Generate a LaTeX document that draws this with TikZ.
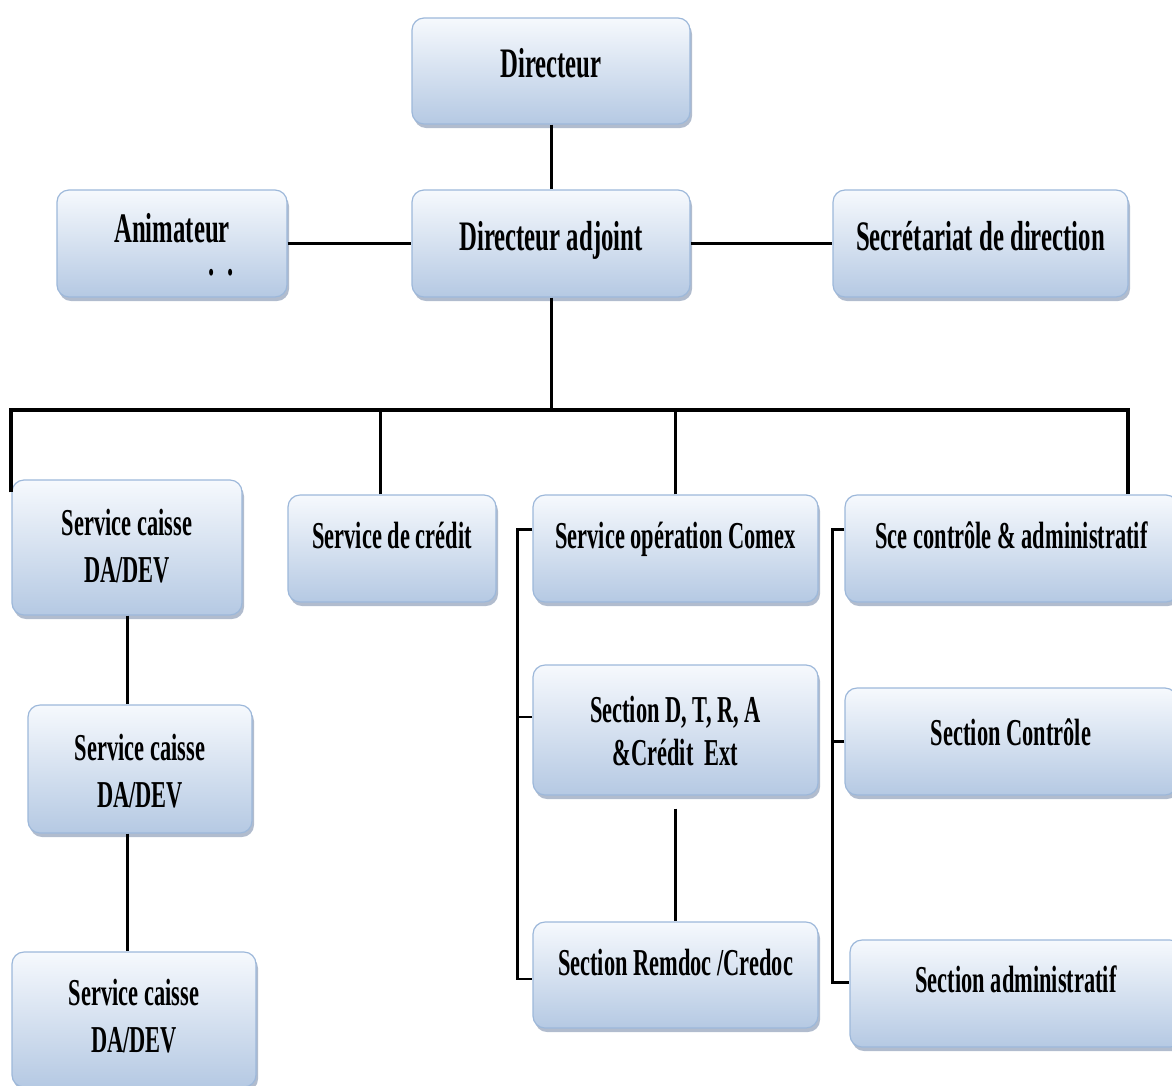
\documentclass[tikz,border=0pt]{standalone}
\usepackage{fontspec}
\newfontfamily\orgfont[FakeStretch=0.59]{Liberation Serif}
\usetikzlibrary{shadows}
\definecolor{boxtop}{HTML}{F6F9FD}
\definecolor{boxbot}{HTML}{B5C9E3}
\definecolor{boxline}{HTML}{9DB8DA}
\definecolor{shadowc}{HTML}{7D90AE}
\tikzset{
  unit/.style={rectangle, rounded corners=12pt, draw=boxline, line width=1.2pt,
    top color=boxtop, bottom color=boxbot,
    drop shadow={shadow xshift=2pt, shadow yshift=-4pt, fill=shadowc, opacity=.6},
    align=center, inner sep=0pt, text=black, text height=26pt,
    font=\orgfont\bfseries\fontsize{38}{47}\selectfont},
  toprow/.style={font=\orgfont\bfseries\fontsize{42}{50}\selectfont},
  twolines/.style={text height=73pt},
  dims/.style n args={3}{minimum width=#1, minimum height=#2, text depth=#3},
  mainline/.style={line width=3pt},
  busline/.style={line width=4pt},
  brkline/.style={line width=2.2pt},
}
\begin{document}
\begin{tikzpicture}[x=1pt,y=-1pt]
\useasboundingbox (0,0) rectangle (1172,1085);
% direction
\node[unit,toprow,dims={278pt}{106pt}{14pt}] (dir) at (551,71) {Directeur};
\node[unit,toprow,twolines,dims={230pt}{107pt}{10pt}] (anim) at (172,243.5) {Animateur\\[-17pt]\hspace*{98pt}.\hspace{13pt}.};
\node[unit,toprow,dims={278pt}{107pt}{13pt}] (adj) at (551,243.5) {Directeur adjoint};
\node[unit,toprow,dims={295pt}{107pt}{13pt}] (secr) at (980.5,243.5) {Secrétariat de direction};
% services
\node[unit,twolines,dims={230pt}{135pt}{4pt}] (caisse1) at (127,547.5) {Service caisse\\DA/DEV};
\node[unit,dims={208pt}{107pt}{26pt}] (credit) at (392,548.5) {Service de crédit};
\node[unit,dims={285pt}{107pt}{26pt}] (comex) at (675.5,548.5) {Service opération Comex};
\node[unit,dims={333pt}{107pt}{26pt}] (sce) at (1011.5,548.5) {Sce contrôle \& administratif};
% sections
\node[unit,twolines,dims={224pt}{128pt}{0pt},text height=76pt] (caisse2) at (140,769) {Service caisse\\DA/DEV};
\node[unit,twolines,dims={244pt}{135pt}{8pt}] (caisse3) at (134,1019.5) {Service caisse\\DA/DEV};
\node[unit,twolines,dims={285pt}{130pt}{3pt}] (dtra) at (675.5,730) {Section D, T, R, A\\[-4pt]\&Crédit\ \ Ext};
\node[unit,dims={285pt}{106pt}{26pt}] (remdoc) at (675.5,975) {Section Remdoc /Credoc};
\node[unit,dims={332pt}{107pt}{19pt}] (ctrl) at (1011,741.5) {Section Contrôle};
\node[unit,dims={332pt}{107pt}{29pt}] (admin) at (1016,993.5) {Section administratif};
% liaisons
\coordinate (bus) at (551,410);
\draw[mainline] (dir) -- (adj);
\draw[mainline] (anim) -- (adj);
\draw[mainline] (adj) -- (secr);
\draw[mainline] (adj) -- (bus);
\draw[busline] ([yshift=-13pt]caisse1.north west) |- (bus) -| ([xshift=116pt]sce.north);
\draw[mainline] ([xshift=-12pt]credit.north) -- ([xshift=-12pt]credit.north |- bus);
\draw[mainline] (comex) -- (comex |- bus);
\draw[mainline] (caisse1.south) -- (caisse1.south |- caisse2.north);
\draw[mainline] (caisse1.south |- caisse2.south) -- (caisse1.south |- caisse3.north);
\draw[mainline] ([yshift=-13pt]dtra.south) -- (remdoc.north);
\draw[brkline] ([yshift=19pt]comex.west) -- ++(-15,0) |- ([yshift=-4pt]remdoc.west);
\draw[brkline] ([yshift=13pt]dtra.west) -- ++(-15,0);
\draw[brkline] ([yshift=19pt]sce.west) -- ++(-12,0) |- ([yshift=11pt]admin.west);
\draw[brkline] (ctrl.west) -- ++(-12,0);
\end{tikzpicture}
\end{document}
